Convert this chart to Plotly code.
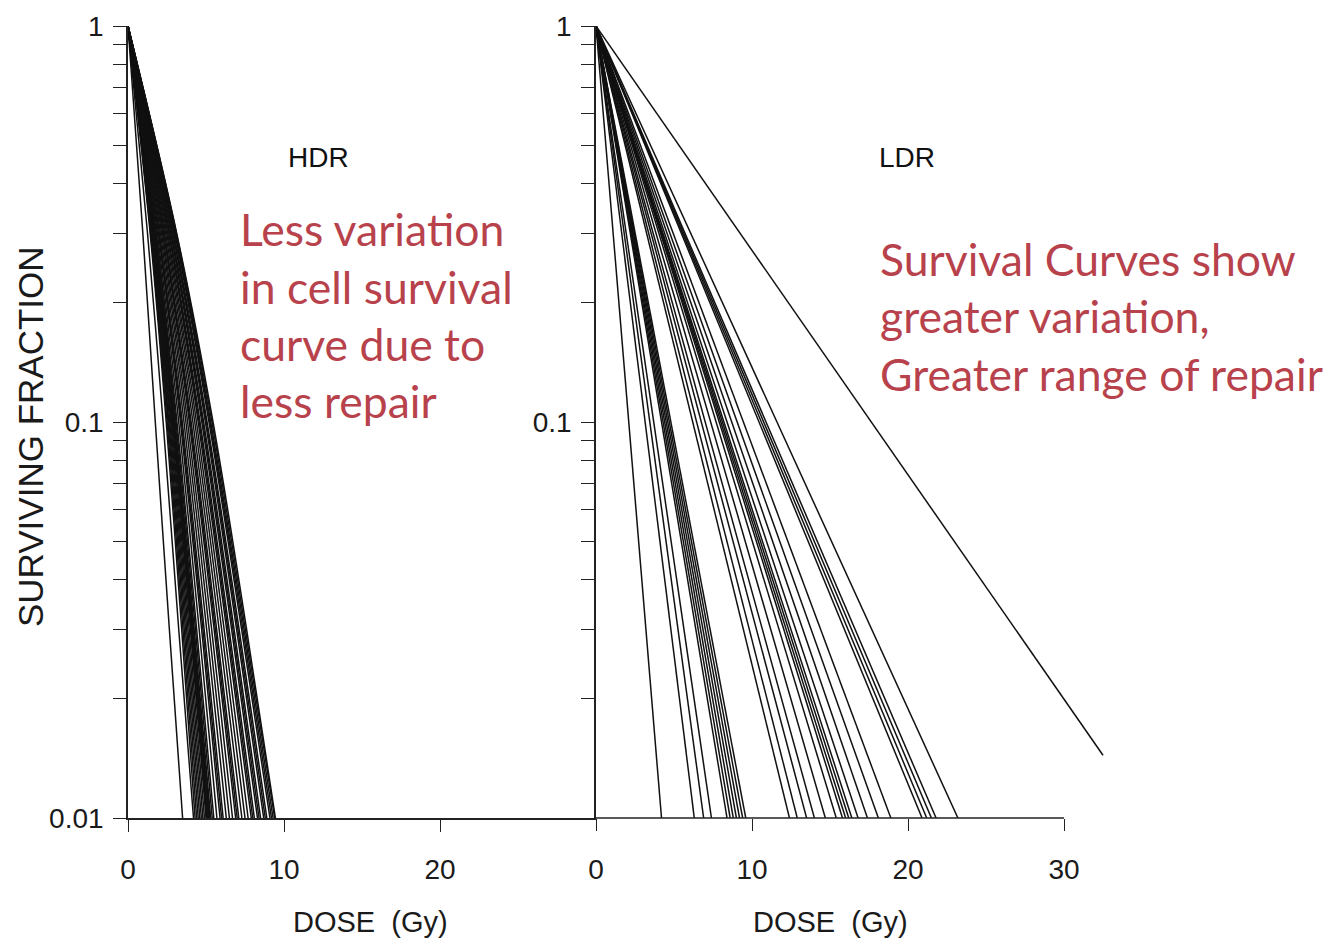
import plotly.graph_objects as go

W, H = 1338, 946
OFF = 8  # page body margin of the browser

# ---------------- data ----------------
# HDR: dose (Gy) at which each survival curve reaches the survival levels below
HDR_LEVELS = [1.0, 0.3, 0.1, 0.03, 0.01]
HDR_DOSES = [
    [0, 0.95, 1.75, 2.65, 3.50],
    [0, 1.25, 2.25, 3.25, 4.20],
    [0, 1.42, 2.45, 3.44, 4.30],
    [0, 1.45, 2.51, 3.52, 4.40],
    [0, 1.49, 2.57, 3.60, 4.50],
    [0, 1.52, 2.62, 3.68, 4.60],
    [0, 1.55, 2.68, 3.76, 4.70],
    [0, 1.58, 2.74, 3.84, 4.80],
    [0, 1.62, 2.79, 3.92, 4.90],
    [0, 1.65, 2.85, 4.00, 5.00],
    [0, 1.67, 2.88, 4.04, 5.05],
    [0, 1.68, 2.91, 4.08, 5.10],
    [0, 1.70, 2.94, 4.12, 5.15],
    [0, 1.72, 2.96, 4.16, 5.20],
    [0, 1.73, 2.99, 4.20, 5.25],
    [0, 1.75, 3.02, 4.24, 5.30],
    [0, 1.78, 3.08, 4.32, 5.40],
    [0, 1.82, 3.14, 4.40, 5.50],
    [0, 1.88, 3.25, 4.56, 5.70],
    [0, 1.95, 3.36, 4.72, 5.90],
    [0, 1.98, 3.42, 4.80, 6.00],
    [0, 2.01, 3.48, 4.88, 6.10],
    [0, 2.08, 3.59, 5.04, 6.30],
    [0, 2.15, 3.71, 5.20, 6.50],
    [0, 2.21, 3.82, 5.36, 6.70],
    [0, 2.28, 3.93, 5.52, 6.90],
    [0, 2.31, 3.99, 5.60, 7.00],
    [0, 2.34, 4.05, 5.68, 7.10],
    [0, 2.41, 4.16, 5.84, 7.30],
    [0, 2.48, 4.28, 6.00, 7.50],
    [0, 2.54, 4.39, 6.16, 7.70],
    [0, 2.61, 4.50, 6.32, 7.90],
    [0, 2.64, 4.56, 6.40, 8.00],
    [0, 2.67, 4.62, 6.48, 8.10],
    [0, 2.74, 4.73, 6.64, 8.30],
    [0, 2.77, 4.79, 6.72, 8.40],
    [0, 2.80, 4.85, 6.80, 8.50],
    [0, 2.87, 4.96, 6.96, 8.70],
    [0, 2.90, 5.02, 7.04, 8.80],
    [0, 2.94, 5.07, 7.12, 8.90],
    [0, 3.00, 5.19, 7.28, 9.10],
    [0, 3.04, 5.25, 7.36, 9.20],
    [0, 3.07, 5.30, 7.44, 9.30],
    [0, 3.10, 5.38, 7.52, 9.40],
    [0, 3.12, 5.45, 7.60, 9.45],
]

# LDR: straight lines on log scale from (0, 1) to (end dose, end survival)
LDR_START_DOSE = 0.0
LDR_START_SURV = 1.0
LDR_END_DOSE = [4.2, 6.3, 6.9, 7.4, 8.4, 8.6, 8.8, 9.0, 9.2, 9.4, 9.6,
                12.4, 12.9, 13.5, 14.0, 14.7, 15.4, 15.8, 16.0, 16.2, 16.4,
                16.8, 17.4, 18.1, 18.9, 20.9, 21.2, 21.5, 21.8, 23.2, 32.5]
LDR_END_SURV = [0.01, 0.01, 0.01, 0.01, 0.01, 0.01, 0.01, 0.01, 0.01, 0.01, 0.01,
                0.01, 0.01, 0.01, 0.01, 0.01, 0.01, 0.01, 0.01, 0.01, 0.01,
                0.01, 0.01, 0.01, 0.01, 0.01, 0.01, 0.01, 0.01, 0.01, 0.0144]

X_TICKS_LEFT = [0, 10, 20]
X_TICKS_RIGHT = [0, 10, 20, 30]
Y_TICK_VALS = [0.01, 0.02, 0.03, 0.04, 0.05, 0.06, 0.07, 0.08, 0.09,
               0.1, 0.2, 0.3, 0.4, 0.5, 0.6, 0.7, 0.8, 0.9, 1]
Y_TICK_TEXT_LEFT = ["0.01", "", "", "", "", "", "", "", "",
                    "0.1", "", "", "", "", "", "", "", "", "1"]
Y_TICK_TEXT_RIGHT = ["", "", "", "", "", "", "", "", "",
                     "0.1", "", "", "", "", "", "", "", "", "1"]

# ---------------- styling ----------------
LINE = dict(color="#111111", width=1.5)
AX_FONT = dict(family="Liberation Sans, Arial, sans-serif", size=28, color="#1a1a1a")
RED = "#b8424c"
RED_FONT = dict(family="Lato, Open Sans, sans-serif", size=44.5, color=RED)


def fx(p):
    return (p - OFF) / W


def fy(p):
    return 1 - (p - OFF) / H


fig = go.Figure()

for row in HDR_DOSES:
    fig.add_trace(go.Scatter(x=row, y=HDR_LEVELS, mode="lines", line=dict(shape="spline", **LINE),
                             xaxis="x", yaxis="y", showlegend=False, hoverinfo="skip"))

for d, s in zip(LDR_END_DOSE, LDR_END_SURV):
    fig.add_trace(go.Scatter(x=[LDR_START_DOSE, d], y=[LDR_START_SURV, s], mode="lines", line=LINE,
                             xaxis="x2", yaxis="y2", showlegend=False, hoverinfo="skip"))

y_dom = [fy(818), fy(26)]
common_y = dict(type="log", range=[-2, 0], domain=y_dom, tickvals=Y_TICK_VALS,
                ticks="outside", ticklen=13, tickwidth=1.4, tickcolor="#222", showline=True,
                linecolor="#222", linewidth=1.6, showgrid=False, zeroline=False,
                tickfont=AX_FONT, ticklabelstandoff=4, automargin=False)
common_x = dict(ticks="outside", ticklen=12, tickwidth=1.4, tickcolor="#222",
                showgrid=False, zeroline=False, tickfont=AX_FONT, ticklabelstandoff=14,
                automargin=False)

fig.update_layout(
    width=W, height=H, autosize=False,
    margin=dict(l=0, r=0, t=0, b=0, pad=0),
    paper_bgcolor="white", plot_bgcolor="rgba(0,0,0,0)",
    xaxis=dict(domain=[fx(128), fx(596)], range=[0, 30], anchor="y", tickvals=X_TICKS_LEFT,
               showline=True, linecolor="#222", linewidth=1.6, **common_x),
    yaxis=dict(anchor="x", ticktext=Y_TICK_TEXT_LEFT, **common_y),
    xaxis2=dict(domain=[fx(596), fx(596 + 33 * 15.6)], range=[0, 33], anchor="y2",
                tickvals=X_TICKS_RIGHT, showline=False, **common_x),
    yaxis2=dict(anchor="x2", ticktext=Y_TICK_TEXT_RIGHT, **common_y),
)

# bottom axis line of right panel stops at 30 Gy
fig.add_shape(type="line", xref="x2", yref="y2 domain", x0=0, x1=30, y0=0, y1=0,
              line=dict(color="#222", width=1.6))

ann = []
ann.append(dict(text="SURVIVING FRACTION", x=fx(31), y=fy(437), textangle=-90,
                font=dict(family="Liberation Sans, Arial", size=35, color="#1a1a1a")))
for cx in (370, 830):
    ann.append(dict(text="DOSE  (Gy)", x=fx(cx), y=fy(922),
                    font=dict(family="Liberation Sans, Arial", size=29, color="#1a1a1a")))
ann.append(dict(text="HDR", x=fx(318), y=fy(157), font=dict(family="Liberation Sans, Arial", size=28, color="#111")))
ann.append(dict(text="LDR", x=fx(907), y=fy(157), font=dict(family="Liberation Sans, Arial", size=28, color="#111")))

left_lines = ["Less variation", "in cell survival", "curve due to", "less repair"]
for i, t in enumerate(left_lines):
    ann.append(dict(text=t, x=fx(238), y=fy(229 + 57.3 * i), xanchor="left", font=RED_FONT))
right_lines = ["Survival Curves show", "greater variation,", "Greater range of repair"]
for i, t in enumerate(right_lines):
    ann.append(dict(text=t, x=fx(878), y=fy(258 + 57.5 * i), xanchor="left", font=RED_FONT))

for a in ann:
    a.setdefault("xanchor", "center")
    a.update(xref="paper", yref="paper", yanchor="middle", showarrow=False)
fig.update_layout(annotations=ann)

fig.write_html("out.html")
